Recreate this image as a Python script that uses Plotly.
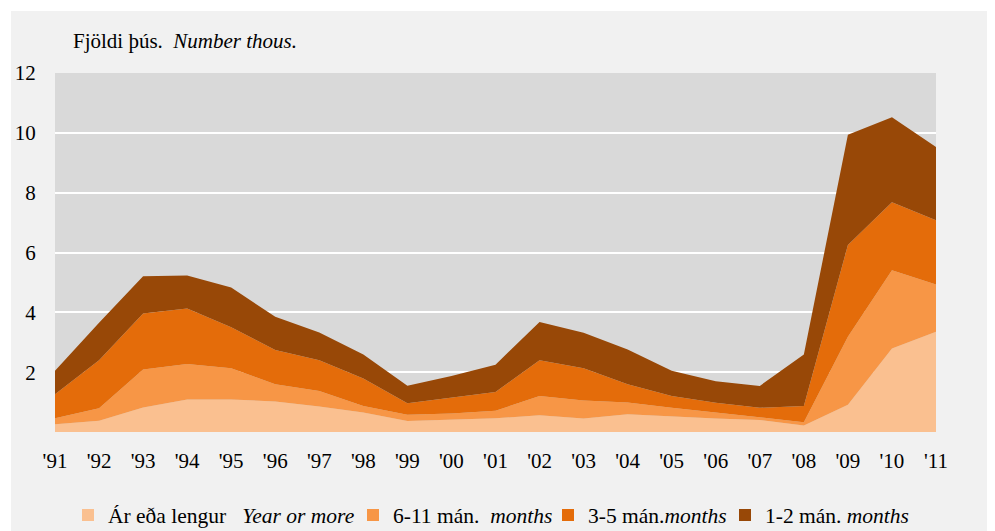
import plotly.graph_objects as go

years = ["'91", "'92", "'93", "'94", "'95", "'96", "'97", "'98", "'99", "'00", "'01",
         "'02", "'03", "'04", "'05", "'06", "'07", "'08", "'09", "'10", "'11"]

year_or_more = [0.26, 0.38, 0.82, 1.09, 1.09, 1.02, 0.85, 0.65, 0.37, 0.42, 0.46,
                0.56, 0.45, 0.59, 0.51, 0.45, 0.40, 0.22, 0.91, 2.79, 3.35]
m6_11 = [0.20, 0.41, 1.27, 1.18, 1.04, 0.58, 0.52, 0.22, 0.21, 0.20, 0.25,
         0.64, 0.60, 0.40, 0.30, 0.20, 0.09, 0.11, 2.27, 2.62, 1.58]
m3_5 = [0.80, 1.61, 1.87, 1.86, 1.37, 1.14, 1.03, 0.92, 0.38, 0.53, 0.63,
        1.20, 1.08, 0.61, 0.39, 0.33, 0.32, 0.54, 3.07, 2.27, 2.15]
m1_2 = [0.79, 1.25, 1.25, 1.10, 1.33, 1.11, 0.93, 0.80, 0.59, 0.72, 0.91,
        1.28, 1.19, 1.16, 0.85, 0.72, 0.73, 1.72, 3.69, 2.84, 2.45]

series_names = ["Ár eða lengur   <i>Year or more</i>",
                "6-11 mán.  <i>months</i>",
                "3-5 mán.<i>months</i>",
                "1-2 mán. <i>months</i>"]
series_values = [year_or_more, m6_11, m3_5, m1_2]
colors = ["#FAC090", "#F79646", "#E46C0A", "#984807"]
legend_widths = [240, 150, 132, 150]

y_ticks = [2, 4, 6, 8, 10, 12]

FONT = "Liberation Serif"

fig = go.Figure()
for name, vals, col in zip(series_names, series_values, colors):
    fig.add_trace(go.Scatter(
        x=years, y=vals, name=name, mode="lines",
        stackgroup="one", line=dict(width=0, color=col),
        fillcolor=col, showlegend=False,
    ))
# legend entries with square swatches
for name, col, lw in zip(series_names, colors, legend_widths):
    fig.add_trace(go.Bar(x=[None], y=[None], name=name, legendwidth=lw,
                         marker=dict(color=col, line=dict(width=0)),
                         showlegend=True, hoverinfo="skip"))

# page has an 8px body margin: figure pixel = screen pixel - OFF
OFF = 8
W, H = 995 - OFF, 531 - OFF
L, R, T, B = 55 - OFF, 995 - 936, 73 - OFF, 531 - 432
pw, ph = W - L - R, H - T - B

def px_x(p):
    return (p - OFF - L) / pw

def px_y(p):
    return (H - B - (p - OFF)) / ph

def cx(p):
    return (p - OFF) / W

def cy(p):
    return 1 - (p - OFF) / H

fig.update_layout(
    width=W, height=H,
    margin=dict(l=L, r=R, t=T, b=B, autoexpand=False),
    paper_bgcolor="#F1F1F1",
    plot_bgcolor="#D9D9D9",
    font=dict(family=FONT, size=21, color="#000000"),
    showlegend=True,
    legend=dict(orientation="h", xref="container", yref="container",
                x=cx(68), y=cy(515), xanchor="left", yanchor="middle",
                traceorder="normal", font=dict(family=FONT, size=21.5),
                bgcolor="rgba(0,0,0,0)", itemwidth=30, borderwidth=0),
    xaxis=dict(type="category", range=[0, len(years) - 1], showgrid=False, zeroline=False,
               showline=False, ticks="outside", ticklen=10, tickcolor="rgba(0,0,0,0)",
               tickfont=dict(family=FONT, size=21)),
    yaxis=dict(range=[0, 12], tickvals=y_ticks, showgrid=True, gridcolor="#FFFFFF", gridwidth=2,
               zeroline=False, showline=False, ticks="outside", ticklen=14,
               tickcolor="rgba(0,0,0,0)", tickfont=dict(family=FONT, size=21)),
    shapes=[
        dict(type="rect", xref="paper", yref="paper", x0=px_x(0), x1=px_x(1000), y0=px_y(11), y1=px_y(0),
             fillcolor="#FFFFFF", line=dict(width=0), layer="below"),
        dict(type="rect", xref="paper", yref="paper", x0=px_x(0), x1=px_x(11), y0=px_y(540), y1=px_y(0),
             fillcolor="#FFFFFF", line=dict(width=0), layer="below"),
        dict(type="rect", xref="paper", yref="paper", x0=px_x(993), x1=px_x(1000), y0=px_y(540), y1=px_y(0),
             fillcolor="#FFFFFF", line=dict(width=0), layer="below"),
    ],
    annotations=[
        dict(text="Fjöldi þús.  <i>Number thous.</i>", xref="paper", yref="paper",
             x=px_x(71), y=px_y(41), xanchor="left", yanchor="middle", showarrow=False,
             font=dict(family=FONT, size=21)),
    ],
)

fig.write_html("out.html")
